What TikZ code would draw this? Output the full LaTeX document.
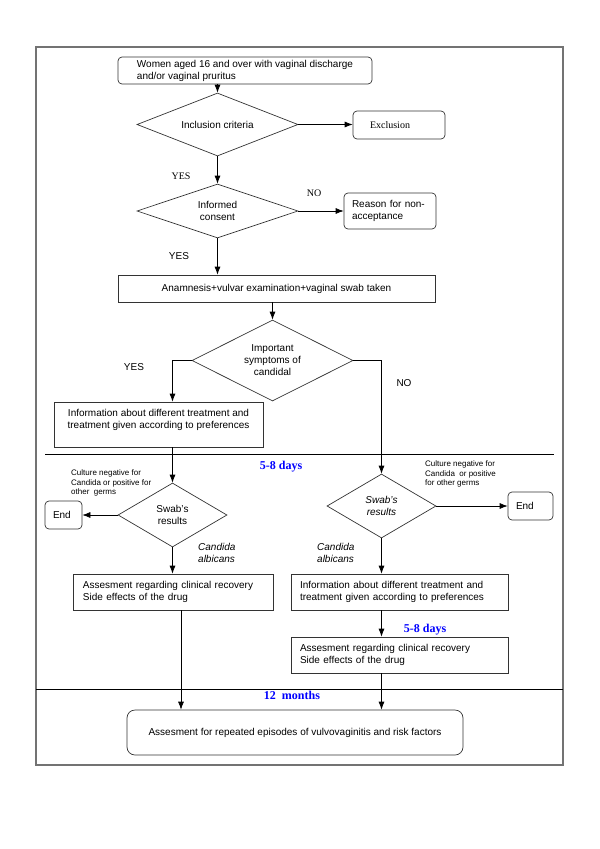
\documentclass[tikz,border=0pt]{standalone}
\usepackage{fontspec}
\setmainfont{Liberation Sans}
\newfontfamily\tms{Liberation Serif}
\usetikzlibrary{shapes.geometric,arrows.meta,calc}
\begin{document}
\begin{tikzpicture}[x=1bp,y=-1bp,
 font=\fontsize{10bp}{12bp}\selectfont,
 box/.style={draw=black!80, line width=0.7bp, inner sep=0pt},
 rbox/.style={box, rounded corners=4bp},
 dia/.style={draw=black!80, line width=0.7bp, diamond, aspect=2, inner sep=0pt, align=center},
 arr/.style={draw=black, line width=0.7bp, -{Latex[length=8bp,width=6bp]}},
 ln/.style={draw=black, line width=0.7bp},
 tm/.style={font=\tms\fontsize{10bp}{12bp}\selectfont},
 bluelab/.style={font=\tms\bfseries\fontsize{12bp}{14bp}\selectfont, text=blue},
 small/.style={font=\fontsize{8bp}{9.5bp}\selectfont, align=left},
 lab/.style={inner sep=0pt},
 ital/.style={font=\fontsize{10bp}{12bp}\selectfont\itshape}]

\useasboundingbox (0,0) rectangle (600,849);

% frame and time separators
\draw[draw=black!55, line width=1.2bp] (36,47) rectangle (563,765);
\draw[ln] (45,454) -- (554,454);
\draw[ln] (36,689) -- (563,689);

% nodes
\node[rbox, minimum width=254bp, minimum height=27bp, align=left] (top) at (245,70.5)
  {Women aged 16 and over with vaginal discharge\\and/or vaginal pruritus};
\node[dia, minimum width=161bp, minimum height=63bp] (d1) at (217.5,124.5) {Inclusion criteria};
\node[rbox, minimum width=92bp, minimum height=28bp, text width=58bp, align=left, tm] (excl) at (399,125) {Exclusion};
\node[dia, minimum width=161bp, minimum height=54bp] (d2) at (217.5,211) {Informed\\consent};
\node[rbox, minimum width=92bp, minimum height=36bp, text width=76bp, align=left] (reas) at (390,211)
  {Reason for non-\\acceptance};
\node[box, minimum width=317bp, minimum height=27bp] (anam) at (276.5,288.5)
  {Anamnesis+vulvar examination+vaginal swab taken};
\node[dia, minimum width=161bp, minimum height=81bp] (d3) at (272.5,360.5)
  {Important\\symptoms of\\candidal};
\node[box, minimum width=209bp, minimum height=45bp, align=center] (info1) at (158.5,424.5)
  {Information about different treatment and\\treatment given according to preferences\\\mbox{}};
\node[dia, minimum width=109bp, minimum height=64bp] (sw1) at (172.5,515) {Swab's\\results};
\node[dia, minimum width=109bp, minimum height=64bp, ital] (sw2) at (381.5,506) {Swab's\\results};
\node[rbox, minimum width=37bp, minimum height=28bp, text width=21bp, align=left] (end1) at (63.5,515) {End};
\node[rbox, minimum width=45bp, minimum height=28bp, text width=29bp, align=left] (end2) at (530.5,506) {End};
\node[box, minimum width=200bp, minimum height=36bp, text width=180bp, align=left] (as1) at (173,592)
  {Assesment regarding clinical recovery\\Side effects of the drug};
\node[box, minimum width=217bp, minimum height=36bp, text width=199bp, align=left] (info2) at (399.5,592)
  {Information about different treatment and\\treatment given according to preferences};
\node[box, minimum width=217bp, minimum height=36bp, text width=199bp, align=left] (as2) at (399.5,655)
  {Assesment regarding clinical recovery\\Side effects of the drug};
\node[box, rounded corners=8bp, minimum width=336bp, minimum height=45bp] (fin) at (295,732.5)
  {Assesment for repeated episodes of vulvovaginitis and risk factors};

% labels
\node[lab, tm] (yes1) at (181,176) {YES};
\node[lab, tm] (no1) at (314,193) {NO};
\node[lab] (yes2) at (179,256) {YES};
\node[lab] (yes3) at (134,367) {YES};
\node[lab] (no3) at (404,383) {NO};
\node[lab, bluelab] (d58a) at (281,467) {5-8 days};
\node[lab, bluelab] (d58b) at (425,630) {5-8 days};
\node[lab, bluelab] (m12) at (292,695) {12\ \ months};
\node[lab, small, anchor=north west] (cul1) at (71,469.5) {Culture negative for\\Candida or positive for\\other\ \ germs};
\node[lab, small, anchor=north west] (cul2) at (425,460.5) {Culture negative for\\Candida\ \ or positive\\for other germs};
\node[lab, ital, align=left, anchor=north west] (cand1) at (198,543) {Candida\\albicans};
\node[lab, ital, align=left, anchor=north west] (cand2) at (317,543) {Candida\\albicans};

% connectors
\draw[arr] (d1.north |- top.south) -- (d1.north);
\draw[arr] (d1.east) -- (excl.west |- d1.east);
\draw[arr] (d1.south) -- (d2.north);
\draw[arr] (d2.east) -- (reas.west |- d2.east);
\draw[arr] (d2.south) -- (d2.south |- anam.north);
\draw[arr] (d3.north |- anam.south) -- (d3.north);
\draw[arr] (d3.west) -| (sw1.north |- info1.north);
\draw[arr] (sw1.north |- info1.south) -- (sw1.north);
\draw[arr] (d3.east) -| (sw2.north);
\draw[arr] (sw1.west) -- (end1.east |- sw1.west);
\draw[arr] (sw2.east) -- (end2.west |- sw2.east);
\draw[arr] (sw1.south) -- (sw1.south |- as1.north);
\draw[arr] (sw2.south) -- (sw2.south |- info2.north);
\draw[arr] (sw2.south |- info2.south) -- (sw2.south |- as2.north);
\draw[arr] (sw2.south |- as2.south) -- (sw2.south |- fin.north);
\coordinate (a1) at ([xshift=8bp]as1.south);
\draw[arr] (a1) -- (a1 |- fin.north);
\end{tikzpicture}
\end{document}
